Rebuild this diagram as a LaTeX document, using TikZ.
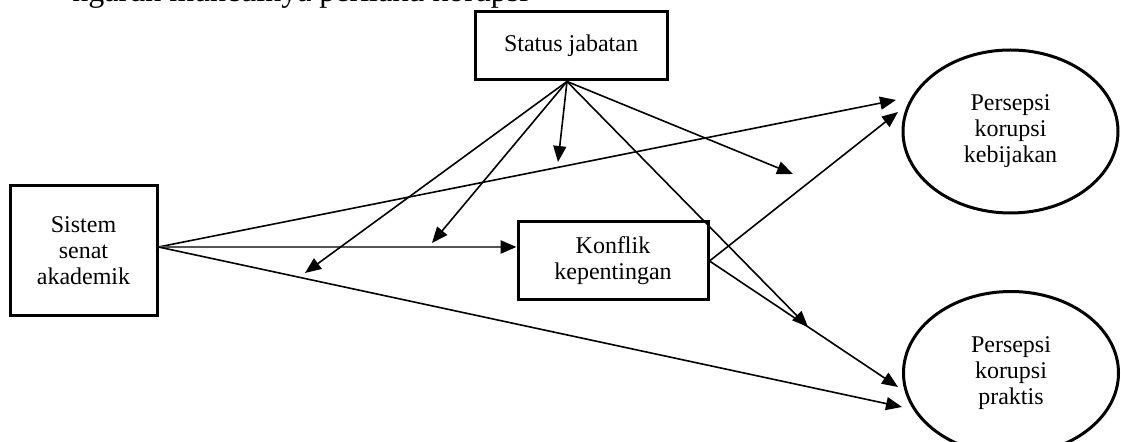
\documentclass[tikz,border=0pt]{standalone}
\usepackage{fontspec}
\setmainfont{Liberation Serif}
\usetikzlibrary{arrows.meta,calc,shapes.geometric}
\begin{document}
\begin{tikzpicture}[x=0.5pt,y=-0.5pt,
  box/.style={draw,line width=1.5pt,rectangle,inner sep=0pt,align=center,font=\fontsize{12}{13}\selectfont},
  oval/.style={draw,line width=1.5pt,ellipse,inner sep=0pt,align=center,font=\fontsize{12}{13}\selectfont},
  conn/.style={line width=0.8pt,-{Triangle[length=8pt,width=6.5pt]}},
  mainconn/.style={line width=1.3pt,draw={rgb,255:red,85;green,85;blue,85},-{Triangle[length=8pt,width=6.5pt,color=black]}}]
\useasboundingbox (0,0) rectangle (1121,442);

\node[anchor=base west,inner sep=0pt,font=\fontsize{16}{19}\selectfont] (top) at (72,2) {ngaruh munculnya perilaku korupsi};

\node[box,minimum width=192*0.5pt,minimum height=68*0.5pt] (st) at (571,46) {Status jabatan};
\node[box,minimum width=147*0.5pt,minimum height=130*0.5pt] (sis) at (83.5,251) {Sistem\\senat\\akademik};
\node[box,minimum width=190*0.5pt,minimum height=78*0.5pt] (kon) at (613,261) {Konflik\\kepentingan};
\node[oval,minimum width=215*0.5pt,minimum height=163*0.5pt] (keb) at (1010.5,131.5) {Persepsi\\korupsi\\kebijakan};
\node[oval,minimum width=215*0.5pt,minimum height=163*0.5pt] (pra) at (1011,373) {Persepsi\\korupsi\\praktis};

\coordinate (so) at ($(sis.east)+(0,-4)$);
\coordinate (so2) at ($(st.south)+(-4,0)$);
\coordinate (kk) at (896,100);
\coordinate (kp) at (902,407);
\coordinate (ck) at (898,112);
\coordinate (cp) at (898,387);
\coordinate (a1) at (305,273);
\coordinate (a2) at (432,243);
\coordinate (a3) at (558,162);
\coordinate (a4) at (793,174);
\coordinate (a5) at (808,327);

\draw[conn] (so) -- (kk);
\draw[mainconn] (so) -- (so -| kon.west);
\draw[conn] (so) -- (kp);
\draw[conn] (kon.east) -- (ck);
\draw[conn] (kon.east) -- (cp);
\draw[conn] (so2) -- (a1);
\draw[conn] (so2) -- (a2);
\draw[conn] (so2) -- (a3);
\draw[conn] (so2) -- (a4);
\draw[conn] (so2) -- (a5);
\end{tikzpicture}
\end{document}
